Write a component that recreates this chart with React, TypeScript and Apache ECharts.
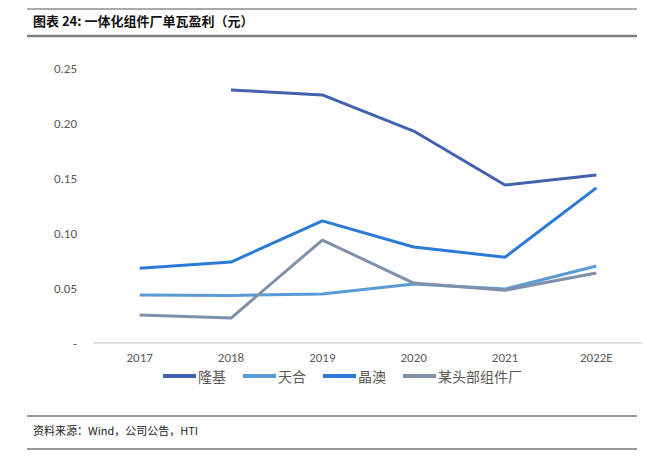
import React, { useEffect, useRef } from "react";
import * as echarts from "echarts";

const categories = ["2017", "2018", "2019", "2020", "2021", "2022E"];
const longi = [null, 0.23, 0.2255, 0.1927, 0.1436, 0.1527];
const trina = [0.0436, 0.0432, 0.0445, 0.0536, 0.049, 0.07];
const jaSolar = [0.068, 0.0736, 0.111, 0.0873, 0.078, 0.141];
const topMaker = [0.0255, 0.0227, 0.0936, 0.0545, 0.048, 0.0636];
const seriesNames = ["隆基", "天合", "晶澳", "某头部组件厂"];
const colors = ["#4163AE", "#5B9BD5", "#2B7BD6", "#8090AA"];

export default function App() {
  const ref = useRef<HTMLDivElement>(null);
  useEffect(() => {
    const chart = echarts.init(ref.current!, null, { renderer: "svg" });
    const data = [longi, trina, jaSolar, topMaker];
    const cjk = '"Noto Sans CJK SC", sans-serif';
    const latin = "Carlito, 'Open Sans', sans-serif";
    chart.setOption({
      animation: false,
      backgroundColor: "#fff",
      grid: { left: 94, right: 5, top: 68, bottom: 113, containLabel: false },
      xAxis: {
        type: "category",
        data: categories,
        boundaryGap: true,
        axisLine: { lineStyle: { color: "#D9D9D9", width: 1.5 } },
        axisTick: { show: false },
        axisLabel: { color: "#595959", fontSize: 13, margin: 8, fontFamily: latin },
      },
      yAxis: {
        type: "value",
        min: 0,
        max: 0.25,
        interval: 0.05,
        axisLine: { show: false },
        axisTick: { show: false },
        splitLine: { show: false },
        axisLabel: {
          color: "#595959",
          fontSize: 13,
          margin: 17,
          fontFamily: latin,
          formatter: (v: number) => (v === 0 ? "-" : v.toFixed(2)),
        },
      },
      legend: {
        left: 163,
        top: 369,
        padding: 0,
        icon: "rect",
        itemWidth: 33,
        itemHeight: 4,
        itemGap: 17,
        textStyle: { color: "#595959", fontSize: 14, fontFamily: cjk, padding: [0, 0, 0, -3] },
        data: seriesNames,
      },
      series: seriesNames.map((name, i) => ({
        name,
        type: "line",
        data: data[i],
        showSymbol: false,
        symbol: "none",
        color: colors[i],
        lineStyle: { width: 3, color: colors[i] },
      })),
      graphic: [
        { type: "line", shape: { x1: 27, y1: 9, x2: 637, y2: 9 }, style: { stroke: "#555", lineWidth: 1 } },
        {
          type: "text",
          left: 33,
          top: 14,
          style: { text: "图表 24: 一体化组件厂单瓦盈利（元）", fill: "#111", font: `bold 13px ${cjk}` },
        },
        { type: "line", shape: { x1: 27, y1: 36, x2: 637, y2: 36 }, style: { stroke: "#808080", lineWidth: 2.5 } },
        { type: "line", shape: { x1: 27, y1: 416, x2: 637, y2: 416 }, style: { stroke: "#333", lineWidth: 1 } },
        {
          type: "text",
          left: 33,
          top: 424,
          style: { text: "资料来源：Wind，公司公告，HTI", fill: "#222", font: `11px ${cjk}` },
        },
        { type: "line", shape: { x1: 27, y1: 449, x2: 637, y2: 449 }, style: { stroke: "#333", lineWidth: 1 } },
      ],
    });
    return () => chart.dispose();
  }, []);
  return <div ref={ref} style={{ width: 647, height: 456, position: "absolute", left: 0, top: 0 }} />;
}
